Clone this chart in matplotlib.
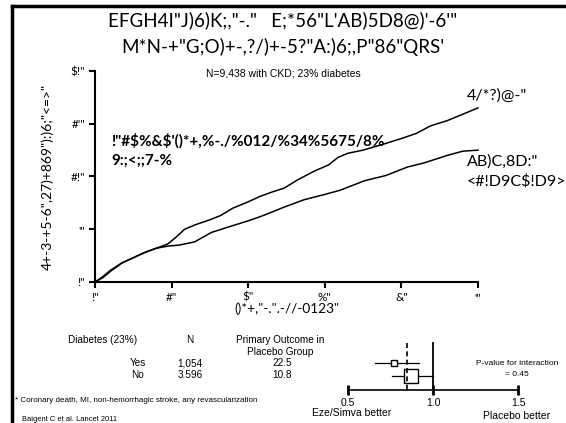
import matplotlib
matplotlib.use('Agg')
import matplotlib.pyplot as plt
from matplotlib.lines import Line2D

plt.rcParams['text.parse_math'] = False

W, H = 566, 423
fig = plt.figure(figsize=(W / 100, H / 100), dpi=100)


def fx(x):
    return x / W


def fy(y):
    return 1 - y / H


CAL = ['Lato', 'DejaVu Sans']
ARI = ['Liberation Sans', 'DejaVu Sans']

# ---------------- data ----------------
years_placebo = [0, 0.1, 0.2, 0.35, 0.5, 0.65, 0.8, 0.95, 1.05, 1.17, 1.3, 1.5, 1.64, 1.8,
                 2.0, 2.15, 2.3, 2.47, 2.65, 2.86, 3.05, 3.17, 3.3, 3.5, 3.78, 4.0, 4.2,
                 4.38, 4.6, 4.8, 5.0]
risk_placebo = [0, 0.5, 1.1, 1.8, 2.3, 2.8, 3.2, 3.6, 4.2, 5.0, 5.4, 5.9, 6.3, 7.0,
                7.6, 8.1, 8.5, 8.9, 9.7, 10.5, 11.1, 11.8, 12.2, 12.5, 13.1, 13.6, 14.1,
                14.8, 15.3, 15.9, 16.5]
years_eze = [0, 0.1, 0.2, 0.35, 0.5, 0.65, 0.8, 0.95, 1.1, 1.3, 1.52, 1.78, 2.0, 2.16,
             2.3, 2.47, 2.73, 3.0, 3.2, 3.52, 3.8, 4.08, 4.3, 4.6, 4.8, 5.0]
risk_eze = [0, 0.4, 1.0, 1.8, 2.3, 2.8, 3.2, 3.4, 3.5, 3.8, 4.7, 5.3, 5.8, 6.2,
            6.6, 7.1, 7.8, 8.3, 8.7, 9.6, 10.1, 10.9, 11.3, 12.0, 12.4, 12.5]

xticks = [0, 1, 2, 3, 4, 5]
xticklabels = ['!"', '#"', '$"', '%"', '&"', '\'"']
yticks = [0, 5, 10, 15, 20]
yticklabels = ['!"', '\'"', '#!"', '#\'"', '$!"']

title_lines = ['EFGH4I"J)6)K;,"-."   E;*56"L\'AB)5D8@)\'-6\'"',
               'M*N-+"G;O)+-,?/)+-5?"A:)6;,P"86"QRS\'']
subtitle = 'N=9,438 with CKD; 23% diabetes'
bold_note = ['!"#$%&$\'()*+,%-./%012/%34%5675/8%', '9:;<;;7-%']
label_placebo = '4/*?)@-"'
label_eze = ['AB)C,8D:"', '<#!D9C$!D9>']
ylabel = '4+-3-+5-6",27)+869"):)6;"<=>"'
xlabel = '()*+,"-.".-//-0123"'

subgroups = ['Yes', 'No']
n_pts = ['1,054', '3.596']
placebo_rate = ['22.5', '10.8']
hr = [0.77, 0.87]
ci_lo = [0.66, 0.76]
ci_hi = [0.92, 1.00]
sq_size = [4, 10]
overall_hr = 0.845
forest_ticks = [0.5, 1.0, 1.5]
forest_ticklabels = ['0.5', '1.0', '1.5']

# ---------------- frame ----------------
fig.add_artist(Line2D([fx(12), fx(12)], [0, fy(6)], lw=2.5, color='black',
                      transform=fig.transFigure))
fig.add_artist(Line2D([fx(12), 1], [fy(6), fy(6)], lw=2.5, color='black',
                      transform=fig.transFigure))

# ---------------- titles ----------------
fig.text(fx(283), fy(20), title_lines[0], ha='center', va='center', fontsize=13.5,
         family=CAL)
fig.text(fx(283), fy(47), title_lines[1], ha='center', va='center', fontsize=13.5,
         family=CAL)
fig.text(fx(283), fy(74), subtitle, ha='center', va='center', fontsize=7.5,
         family=ARI)

# ---------------- KM axes ----------------
ax = fig.add_axes([fx(95), fy(282), fx(478) - fx(95), fy(71) - fy(282)])
ax.plot(years_placebo, risk_placebo, color='black', lw=1.1, clip_on=False)
ax.plot(years_eze, risk_eze, color='black', lw=1.1, clip_on=False)
ax.set_xlim(0, 5)
ax.set_ylim(0, 20)
ax.spines[['top', 'right']].set_visible(False)
for s in ['left', 'bottom']:
    ax.spines[s].set_linewidth(1.5)
ax.set_xticks(xticks)
ax.set_xticklabels(xticklabels, family=CAL, fontsize=8.5)
ax.set_yticks(yticks)
ax.set_yticklabels(yticklabels, family=CAL, fontsize=8.5)
ax.tick_params(direction='out', length=4, width=1.5, pad=3)
ax.set_xlabel(xlabel, family=CAL, fontsize=9.8, labelpad=0)
ax.set_ylabel(ylabel, family=CAL, fontsize=10, labelpad=12)
ax.patch.set_alpha(0)

fig.text(fx(111), fy(141), bold_note[0], ha='left', va='center', fontsize=11,
         family=CAL, weight='bold')
fig.text(fx(111), fy(161), bold_note[1], ha='left', va='center', fontsize=11,
         family=CAL, weight='bold')
fig.text(fx(467), fy(96), label_placebo, ha='left', va='center', fontsize=11.5, family=CAL)
fig.text(fx(467), fy(162), label_eze[0], ha='left', va='center', fontsize=11.5, family=CAL)
fig.text(fx(467), fy(181), label_eze[1], ha='left', va='center', fontsize=11.5, family=CAL)

# ---------------- table ----------------
fs_t = 7.2
fig.text(fx(103), fy(340), 'Diabetes (23%)', ha='center', va='center', fontsize=fs_t, family=ARI)
fig.text(fx(190), fy(340), 'N', ha='center', va='center', fontsize=fs_t, family=ARI)
fig.text(fx(280), fy(340), 'Primary Outcome in', ha='center', va='center', fontsize=fs_t, family=ARI)
fig.text(fx(280), fy(352), 'Placebo Group', ha='center', va='center', fontsize=fs_t, family=ARI)
row_y = [363, 375]
for i in range(len(subgroups)):
    fig.text(fx(138), fy(row_y[i]), subgroups[i], ha='center', va='center', fontsize=fs_t, family=ARI)
    fig.text(fx(190), fy(row_y[i]), n_pts[i], ha='center', va='center', fontsize=fs_t, family=ARI)
    fig.text(fx(292), fy(row_y[i]), placebo_rate[i], ha='right', va='center', fontsize=fs_t, family=ARI)

fig.text(fx(15), fy(400), '* Coronary death, MI, non-hemorrhagic stroke, any revascularization',
         ha='left', va='center', fontsize=5.8, family=ARI)
fig.text(fx(22), fy(419), 'Baigent C et al. Lancet 2011', ha='left', va='center',
         fontsize=5.4, family=ARI)

# ---------------- forest ----------------
fa = fig.add_axes([fx(348), fy(390), fx(518) - fx(348), fy(340) - fy(390)])
fa.set_xlim(0.5, 1.5)
fa.set_ylim(2.08, -1.77)
rows = list(range(len(subgroups)))
for i in rows:
    fa.plot([ci_lo[i], ci_hi[i]], [i, i], color='black', lw=0.9, clip_on=False)
    fa.plot([hr[i]], [i], marker='s', ms=sq_size[i], mfc='white', mec='black', mew=1.0,
            clip_on=False)
fa.plot([1.0, 1.0], [-1.55, 2.08], color='black', lw=1.3)
fa.plot([overall_hr, overall_hr], [-1.55, 2.08], color='black', lw=1.2, ls=(0, (3, 2)))
for s in ['top', 'right', 'left']:
    fa.spines[s].set_visible(False)
fa.spines['bottom'].set_linewidth(1.2)
fa.set_yticks([])
fa.set_xticks(forest_ticks)
fa.set_xticklabels(forest_ticklabels, family=ARI, fontsize=7.5)
fa.tick_params(axis='x', direction='inout', length=7, width=2, pad=2)
fa.patch.set_alpha(0)

fig.text(fx(517), fy(363), 'P-value for interaction', ha='center', va='center', fontsize=6,
         family=ARI)
fig.text(fx(517), fy(375), '= 0.45', ha='center', va='center', fontsize=6, family=ARI)
fig.text(fx(352), fy(413), 'Eze/Simva better', ha='center', va='center', fontsize=7.5, family=ARI)
fig.text(fx(517), fy(416), 'Placebo better', ha='center', va='center', fontsize=7.5, family=ARI)

fig.savefig('out.png', dpi=100)
